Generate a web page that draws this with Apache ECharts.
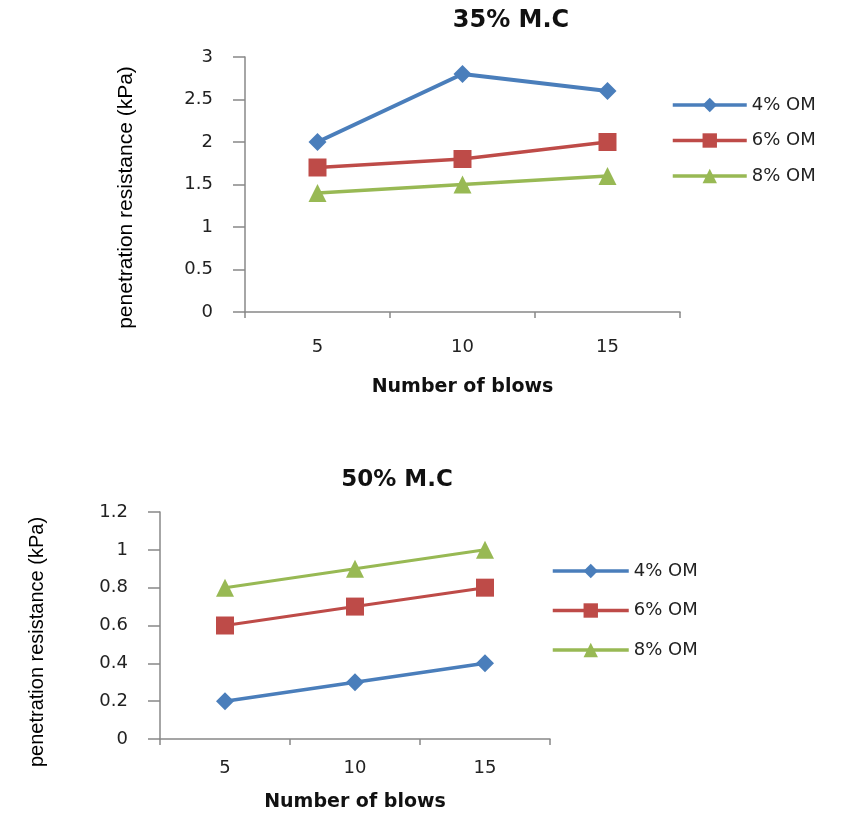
<!DOCTYPE html>
<html>
<head>
<meta charset="utf-8">
<script src="https://cdn.jsdelivr.net/npm/echarts@6/dist/echarts.min.js"></script>
<style>
  html, body { margin: 0; padding: 0; background: #fff; }
  #main { width: 859px; height: 815px; }
</style>
</head>
<body>
<div id="main"></div>
<script>
// x categories (number of blows)
var blows = ['5', '10', '15'];
var seriesNames = ['4% OM', '6% OM', '8% OM'];

// 35% M.C
var mc35_om4 = [2.0, 2.8, 2.6];
var mc35_om6 = [1.7, 1.8, 2.0];
var mc35_om8 = [1.4, 1.5, 1.6];

// 50% M.C
var mc50_om4 = [0.2, 0.3, 0.4];
var mc50_om6 = [0.6, 0.7, 0.8];
var mc50_om8 = [0.8, 0.9, 1.0];

var colors = ['#4A7EBB', '#BE4B48', '#98B954'];
var symbols = ['diamond', 'rect', 'triangle'];
var symSizes = [18, 18, 18];

var myChart = echarts.init(document.getElementById('main'));

function xAx(idx, margin, gap) {
    return {
        type: 'category', gridIndex: idx, data: blows,
        boundaryGap: true,
        name: 'Number of blows', nameLocation: 'middle', nameGap: gap,
        nameTextStyle: { fontFamily: 'DejaVu Sans', fontWeight: 'bold', fontSize: 19, color: '#111' },
        axisLine: { lineStyle: { color: '#888', width: 1.5 } },
        axisTick: { show: true, length: 6, lineStyle: { color: '#888', width: 1.5 } },
        axisLabel: { fontFamily: 'DejaVu Sans', fontSize: 18, color: '#222', margin: margin }
    };
}
function yAx(idx, max, interval, gap, shift, fs, fmt) {
    return {
        type: 'value', gridIndex: idx, min: 0, max: max, interval: interval,
        name: 'penetration resistance (kPa)', nameLocation: 'middle', nameGap: gap,
        nameTextStyle: { fontFamily: 'Liberation Sans', fontSize: fs, color: '#000', padding: [0, shift, 0, 0] },
        splitLine: { show: false },
        axisLine: { show: true, lineStyle: { color: '#888', width: 1.5 } },
        axisTick: { show: true, length: 12, lineStyle: { color: '#888', width: 1.5 } },
        axisLabel: { fontFamily: 'DejaVu Sans', fontSize: 18, color: '#222', margin: 32, formatter: fmt }
    };
}
function mk(i, data, idx, lw) {
    return {
        name: seriesNames[i], type: 'line', xAxisIndex: idx, yAxisIndex: idx,
        data: data, symbol: symbols[i], symbolSize: symSizes[i],
        lineStyle: { color: colors[i], width: lw },
        itemStyle: { color: colors[i] },
        animation: false
    };
}
function leg(left, top, gap, w) {
    return {
        orient: 'vertical', left: left, top: top, itemGap: gap,
        itemWidth: w, itemHeight: 18,
        data: seriesNames,
        lineStyle: { width: 3.5 },
        textStyle: { fontFamily: 'DejaVu Sans', fontSize: 18, color: '#222' }
    };
}

var option = {
    backgroundColor: '#fff',
    title: [
        { text: '35% M.C', left: 506, top: 4, textAlign: 'center',
          textStyle: { fontFamily: 'DejaVu Sans', fontWeight: 'bold', fontSize: 24, color: '#111' } },
        { text: '50% M.C', left: 392, top: 464, textAlign: 'center',
          textStyle: { fontFamily: 'DejaVu Sans', fontWeight: 'bold', fontSize: 23, color: '#111' } }
    ],
    legend: [leg(666, 91, 17.5, 74), leg(546, 557, 21.5, 76)],
    grid: [
        { left: 245, right: 179, top: 57, bottom: 503 },
        { left: 160, right: 309, top: 512, bottom: 76 }
    ],
    xAxis: [xAx(0, 26, 66), xAx(1, 20, 54)],
    yAxis: [
        yAx(0, 3, 0.5, 108, 26, 21, function (v) { return String(v); }),
        yAx(1, 1.2, 0.2, 113, 33, 20, function (v) { return String(Math.round(v * 10) / 10); })
    ],
    series: [
        mk(0, mc35_om4, 0, 4), mk(1, mc35_om6, 0, 3.5), mk(2, mc35_om8, 0, 3.5),
        mk(0, mc50_om4, 1, 3.5), mk(1, mc50_om6, 1, 3), mk(2, mc50_om8, 1, 3)
    ]
};
myChart.setOption(option);
</script>
</body>
</html>
